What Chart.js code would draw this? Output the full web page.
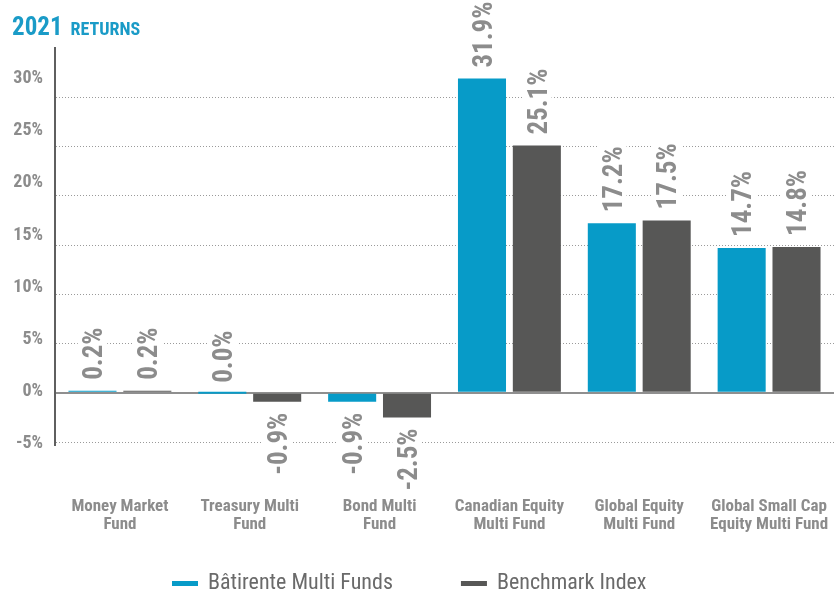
<!DOCTYPE html>
<html>
<head>
<meta charset="utf-8">
<script src="https://cdn.jsdelivr.net/npm/chart.js@4.4.0/dist/chart.umd.min.js"></script>
<style>
  body { margin: 0; background: #fff; }
</style>
</head>
<body>
<canvas id="chart-returns" width="834" height="595"></canvas>
<script>
const categories = [
    ['Money Market', 'Fund'],
    ['Treasury Multi', 'Fund'],
    ['Bond Multi', 'Fund'],
    ['Canadian Equity', 'Multi Fund'],
    ['Global Equity', 'Multi Fund'],
    ['Global Small Cap', 'Equity Multi Fund']
];
const seriesNames = ['Bâtirente Multi Funds', 'Benchmark Index'];
const batirenteReturns = [0.2, 0.0, -0.9, 31.9, 17.2, 14.7];
const benchmarkReturns = [0.2, -0.9, -2.5, 25.1, 17.5, 14.8];
const yTickLabels = [-5, 0, 5, 10, 15, 20, 25, 30];
const gridValues = [-5, 0, 5, 10, 15, 20, 25, 30];

const narrowFont = '"Liberation Sans Narrow", "Arial Narrow", "Roboto Condensed", sans-serif';
const blue = '#079bc8';
const darkGrey = '#575756';
const labelGrey = '#8c8c8c';

// title, rotated value labels and the legend are drawn here
const drawExtras = {
    id: 'drawExtras',
    afterDatasetsDraw(chart) {
        const ctx = chart.ctx;
        chart.data.datasets.forEach((ds, i) => {
            const meta = chart.getDatasetMeta(i);
            meta.data.forEach((bar, j) => {
                const v = ds.data[j];
                const txt = v.toFixed(1) + '%';
                ctx.save();
                ctx.translate(bar.x, bar.y);
                ctx.rotate(-Math.PI / 2);
                ctx.font = 'bold 27px ' + narrowFont;
                const w = ctx.measureText(txt).width;
                const capH = 27 * 0.72;
                const x0 = v >= 0 ? 11 : -11 - w;
                ctx.fillStyle = '#fff';
                ctx.fillRect(x0 - 4, -capH / 2 - 5, w + 8, capH + 10);
                ctx.fillStyle = labelGrey;
                ctx.textBaseline = 'alphabetic';
                ctx.fillText(txt, x0, capH / 2);
                ctx.restore();
            });
        });
    },
    afterDraw(chart) {
        const ctx = chart.ctx;
        ctx.save();
        // title
        ctx.fillStyle = '#1a9bc7';
        ctx.textBaseline = 'alphabetic';
        ctx.font = 'bold 25px ' + narrowFont;
        ctx.fillText('2021', 12, 35);
        const yw = ctx.measureText('2021').width;
        ctx.font = 'bold 18px ' + narrowFont;
        ctx.fillText('RETURNS', 12 + yw + 8, 35);

        // legend
        ctx.font = '22px ' + narrowFont;
        ctx.textBaseline = 'middle';
        let x = 172;
        chart.data.datasets.forEach((ds) => {
            ctx.fillStyle = ds.backgroundColor;
            ctx.fillRect(x, 581, 26, 5);
            x += 36;
            ctx.fillStyle = '#6a6a6a';
            ctx.fillText(ds.label, x, 583);
            x += ctx.measureText(ds.label).width + 68;
        });
        ctx.restore();
    }
};

const returnsChart = new Chart(document.getElementById('chart-returns'), {
    type: 'bar',
    data: {
        labels: categories,
        datasets: [{
            label: seriesNames[0],
            data: batirenteReturns,
            backgroundColor: blue,
            minBarLength: 2
        }, {
            label: seriesNames[1],
            data: benchmarkReturns,
            backgroundColor: darkGrey,
            minBarLength: 2
        }]
    },
    options: {
        responsive: false,
        animation: false,
        categoryPercentage: 0.845,
        barPercentage: 0.876,
        layout: { padding: { top: 48, left: 0, right: 0, bottom: 0 } },
        plugins: {
            legend: { display: false },
            tooltip: { enabled: false }
        },
        scales: {
            x: {
                grid: { display: false, drawTicks: false },
                border: { display: false },
                ticks: {
                    color: labelGrey,
                    font: { family: narrowFont, size: 17, weight: 'bold', lineHeight: 1.1 },
                    padding: 52,
                    maxRotation: 0,
                    autoSkip: false
                },
                afterFit(scale) {
                    scale.height = 150;
                    scale.paddingLeft = 0;
                    scale.paddingRight = 0;
                }
            },
            y: {
                min: -5.3,
                max: 35,
                weight: 0,
                afterBuildTicks(scale) { scale.ticks = gridValues.map(v => ({ value: v })); },
                afterFit(scale) { scale.width = 0; },
                ticks: { display: false },
                grid: {
                    drawTicks: false,
                    color: c => (c.tick && c.tick.value === 0) ? '#8f8f8f' : '#9a9a9a',
                    lineWidth: c => (c.tick && c.tick.value === 0) ? 2 : 1
                },
                border: {
                    display: true,
                    color: '#5f5f5f',
                    width: 2,
                    dash: c => (c.tick && c.tick.value !== 0) ? [1, 2] : []
                }
            },
            y2: {
                position: 'left',
                weight: 1,
                min: -5.15,
                max: 32.95,
                afterBuildTicks(scale) { scale.ticks = yTickLabels.map(v => ({ value: v })); },
                afterFit(scale) { scale.width = 55; },
                grid: { display: false, drawTicks: false },
                border: { display: false },
                ticks: {
                    padding: 12,
                    color: labelGrey,
                    font: { family: narrowFont, size: 18, weight: 'bold' },
                    callback: v => v + '%'
                }
            }
        }
    },
    plugins: [drawExtras]
});
</script>
</body>
</html>
